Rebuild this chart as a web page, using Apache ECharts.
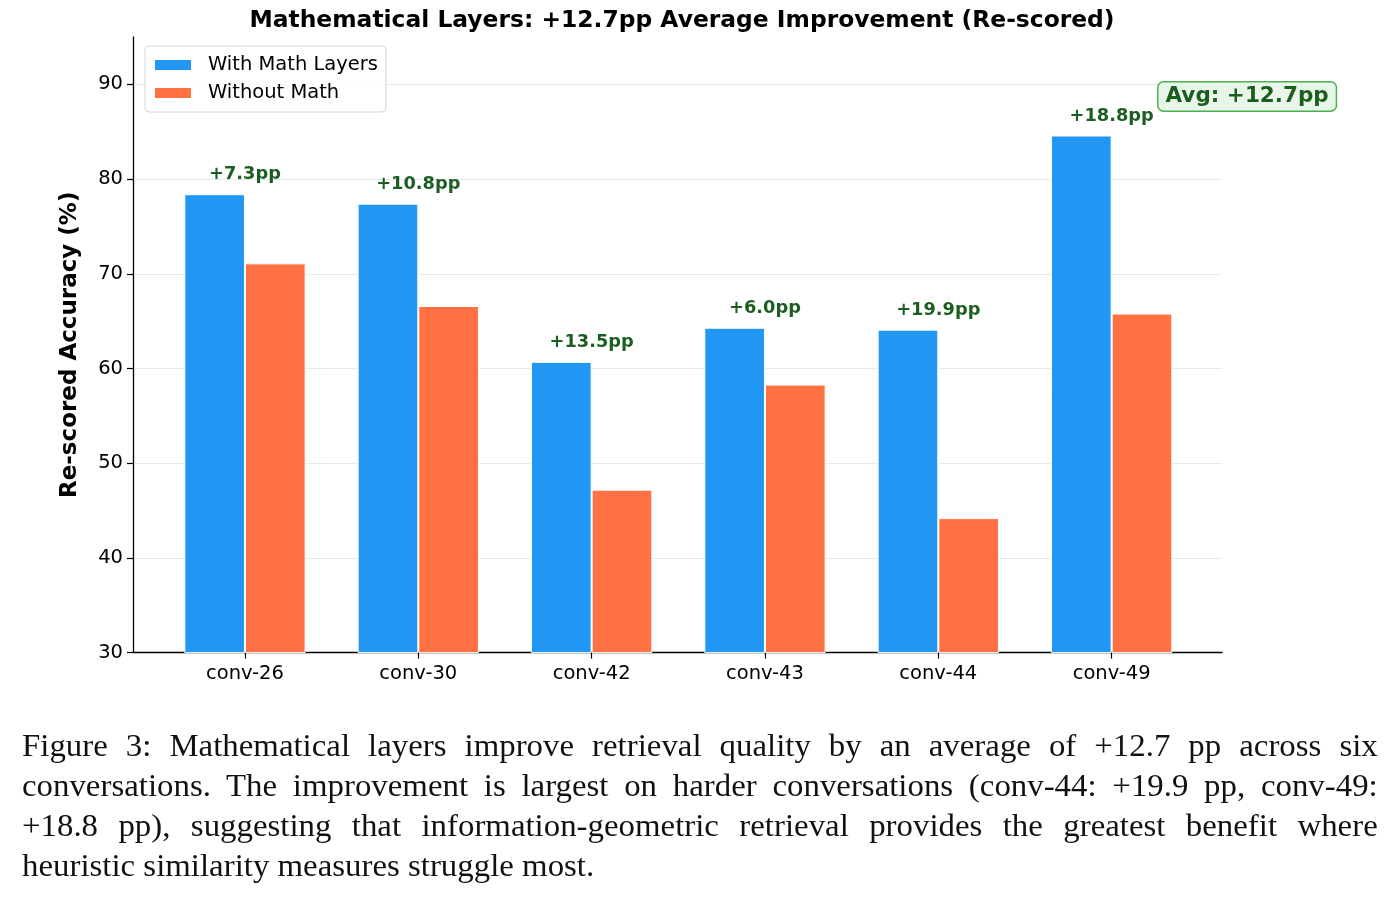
<!DOCTYPE html>
<html>
<head>
<meta charset="utf-8">
<script src="https://cdn.jsdelivr.net/npm/echarts@6/dist/echarts.min.js"></script>
<style>
  html, body { margin: 0; padding: 0; background: #fff; }
  #wrap { position: relative; width: 1396px; height: 900px; overflow: hidden; }
  #chart { position: absolute; left: 0; top: 0; width: 1396px; height: 900px; }
  #caption {
    position: absolute; left: 22px; top: 726px; width: 1279px;
    transform: scaleX(1.06); transform-origin: 0 0;
    font-family: "Liberation Serif", "DejaVu Serif", serif;
    font-size: 31px; line-height: 40px; color: #111;
  }
  #caption .ln { text-align: justify; text-align-last: justify; white-space: nowrap; }
  #caption .ln.last { text-align: left; text-align-last: left; }
</style>
</head>
<body>
<div id="wrap">
  <div id="chart"></div>
  <div id="caption">
    <div class="ln">Figure 3: Mathematical layers improve retrieval quality by an average of +12.7 pp across six</div>
    <div class="ln">conversations. The improvement is largest on harder conversations (conv-44: +19.9 pp, conv-49:</div>
    <div class="ln">+18.8 pp), suggesting that information-geometric retrieval provides the greatest benefit where</div>
    <div class="ln last">heuristic similarity measures struggle most.</div>
  </div>
</div>
<script>
'use strict'
// data
var categories = ['conv-26', 'conv-30', 'conv-42', 'conv-43', 'conv-44', 'conv-49']
var withMath = [78.4, 77.4, 60.7, 64.3, 64.1, 84.6]
var withoutMath = [71.1, 66.6, 47.2, 58.3, 44.2, 65.8]
var gains = [7.3, 10.8, 13.5, 6.0, 19.9, 18.8]
var avgGain = 12.7
var yTicks = [30, 40, 50, 60, 70, 80, 90]

var font = 'DejaVu Sans'
var green = '#1b5e20'

var myChart = echarts.init(document.getElementById('chart'))

// label points sit just above the taller bar, in the middle of each group
var gainPoints = categories.map(function (c, i) {
  return [i, Math.max(withMath[i], withoutMath[i]) + 1]
})

var option = {
  animation: false,
  title: {
    text: 'Mathematical Layers: +' + avgGain.toFixed(1) + 'pp Average Improvement (Re-scored)',
    left: 677,
    textAlign: 'center',
    top: 4,
    textStyle: { fontFamily: font, fontWeight: 'bold', fontSize: 23.4, color: '#000' }
  },
  legend: {
    data: ['With Math Layers', 'Without Math'],
    orient: 'vertical',
    left: 145,
    top: 46,
    icon: 'rect',
    itemWidth: 38,
    itemHeight: 12,
    itemGap: 8,
    padding: [9, 8, 9, 8],
    borderColor: '#d6d6d6',
    borderWidth: 1,
    borderRadius: 4,
    backgroundColor: 'rgba(255,255,255,0.85)',
    textStyle: { fontFamily: font, fontSize: 19.5, color: '#000', padding: [0, 0, 0, 11] }
  },
  grid: [
    { left: 133, right: 174, top: 37, bottom: 247.4 },
    { left: 158.3, right: 197.7, top: 37, bottom: 247.4 }
  ],
  xAxis: [
    {
      gridIndex: 0, type: 'value', min: 0, max: 1,
      axisLine: { show: true, lineStyle: { color: '#000', width: 1.3 } },
      axisTick: { show: false }, axisLabel: { show: false }, splitLine: { show: false }
    },
    {
      gridIndex: 1, type: 'category', data: categories,
      axisLine: { show: false },
      axisTick: { show: true, alignWithLabel: true, length: 6, lineStyle: { color: '#000', width: 1.2 } },
      axisLabel: { fontFamily: font, fontSize: 19.5, color: '#000', margin: 11 }
    }
  ],
  yAxis: [
    {
      gridIndex: 0, type: 'value', min: 30, max: 95, interval: 10,
      name: 'Re-scored Accuracy (%)',
      nameLocation: 'middle',
      nameGap: 51,
      nameTextStyle: { fontFamily: font, fontWeight: 'bold', fontSize: 23, color: '#000' },
      axisLine: { show: true, lineStyle: { color: '#000', width: 1.3 } },
      axisTick: { show: true, length: 6, lineStyle: { color: '#000', width: 1.2 }, customValues: yTicks },
      axisLabel: { fontFamily: font, fontSize: 19.5, color: '#000', margin: 10, customValues: yTicks },
      splitLine: { show: true, lineStyle: { color: '#e8e8e8', width: 1 } }
    },
    { gridIndex: 1, type: 'value', min: 30, max: 95, show: false }
  ],
  series: [
    {
      name: 'With Math Layers', type: 'bar', xAxisIndex: 1, yAxisIndex: 1,
      data: withMath, barWidth: '35%', barGap: '0%',
      itemStyle: { color: '#2196F3', borderColor: '#fff', borderWidth: 1 }
    },
    {
      name: 'Without Math', type: 'bar', xAxisIndex: 1, yAxisIndex: 1,
      data: withoutMath, barWidth: '35%', barGap: '0%',
      itemStyle: { color: '#FF7043', borderColor: '#fff', borderWidth: 1 }
    },
    {
      name: 'gain', type: 'scatter', xAxisIndex: 1, yAxisIndex: 1,
      data: gainPoints, symbolSize: 0, silent: true, z: 5,
      itemStyle: { opacity: 1 },
      label: {
        show: true, position: 'top', distance: 1,
        formatter: function (p) { return '+' + gains[p.dataIndex].toFixed(1) + 'pp' },
        fontFamily: font, fontWeight: 'bold', fontSize: 17.8, color: green, opacity: 1
      }
    }
  ],
  graphic: [
    {
      type: 'text', left: 1157, top: 81, z: 10,
      style: {
        text: 'Avg: +' + avgGain.toFixed(1) + 'pp',
        font: 'bold 21.5px "DejaVu Sans"', fill: green,
        backgroundColor: '#e8f5e9', borderColor: '#4caf50', borderWidth: 1.5, borderRadius: 5,
        padding: [3, 7, 3, 7]
      }
    }
  ]
}

myChart.setOption(option)
</script>
</body>
</html>
